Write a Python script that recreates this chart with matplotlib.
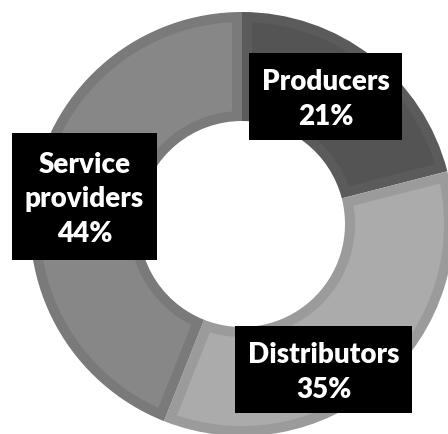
import numpy as np
import matplotlib
matplotlib.use("Agg")
import matplotlib.pyplot as plt
from matplotlib.patches import Polygon, Rectangle

categories = ["Producers", "Distributors", "Service\nproviders"]
shares = [21, 35, 44]
border_colors = ["#5b5b5b", "#9b9b9b", "#7a7a7a"]
face_colors = ["#545454", "#ababab", "#878787"]

W, H = 448, 434
cx, cy = 242, H - 224
r_out, r_in = 212, 103
bevel = 10

# label boxes: (left, top, width, height) in pixels from top-left
label_boxes = [(249, 53, 153, 87), (235, 326, 177, 87), (12, 133, 145, 127)]

fig = plt.figure(figsize=(W / 100, H / 100), dpi=100)
ax = fig.add_axes([0, 0, 1, 1])

wedges, _ = ax.pie(shares, colors=border_colors, startangle=90, counterclock=False,
                   radius=r_out, center=(cx, cy), frame=True,
                   wedgeprops=dict(width=r_out - r_in, linewidth=0))
ax.set_xlim(0, W)
ax.set_ylim(0, H)
ax.axis("off")

# inner bevel face of each segment
ro2, ri2 = r_out - bevel, r_in + bevel
for w, fc in zip(wedges, face_colors):
    t1, t2 = np.radians(w.theta1), np.radians(w.theta2)
    a_o = np.arcsin(bevel / ro2)
    a_i = np.arcsin(bevel / ri2)
    outer = np.linspace(t1 + a_o, t2 - a_o, 120)
    inner = np.linspace(t2 - a_i, t1 + a_i, 120)
    pts = np.concatenate([
        np.column_stack([cx + ro2 * np.cos(outer), cy + ro2 * np.sin(outer)]),
        np.column_stack([cx + ri2 * np.cos(inner), cy + ri2 * np.sin(inner)]),
    ])
    ax.add_patch(Polygon(pts, closed=True, facecolor=fc, edgecolor="none"))

for cat, val, (lx, ty, bw, bh) in zip(categories, shares, label_boxes):
    ax.add_patch(Rectangle((lx, H - ty - bh), bw, bh, facecolor="black", edgecolor="none", zorder=5))
    ax.text(lx + bw / 2, H - ty - bh / 2 - 3, f"{cat}\n{val}%", color="white",
            ha="center", va="center", fontsize=20, fontweight="heavy",
            family="Lato", linespacing=1.4, zorder=6)

fig.savefig("out.png", dpi=100)
